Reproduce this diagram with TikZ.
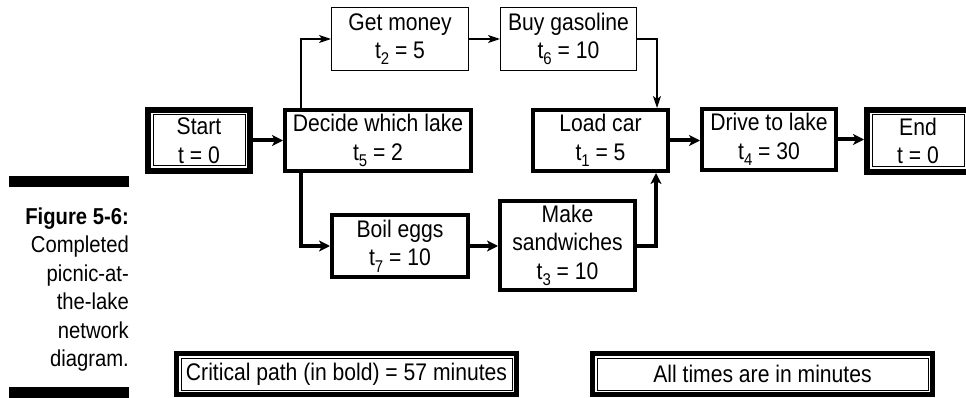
\documentclass[tikz,border=0pt]{standalone}
\usepackage{fontspec}
\setmainfont[FakeStretch=0.88]{Liberation Sans}
\usetikzlibrary{arrows.meta}
\newcommand\sbx[1]{\raisebox{-0.26em}{\fontsize{17}{17}\selectfont #1}}
\tikzset{
  box/.style={draw, align=center, inner sep=0pt, font=\fontsize{24}{28.5}\selectfont},
  thinbox/.style={box, line width=1.3pt},
  thickbox/.style={box, line width=4pt},
  dblbox/.style={box, line width=6pt},
  notebox/.style={box, line width=5pt},
  thinarr/.style={line width=1.3pt, -{Stealth[length=12pt,width=8pt,inset=3pt]}},
  thickarr/.style={line width=4pt, -{Stealth[length=11pt,width=11pt,inset=3pt]}},
  innerline/.style={line width=1pt},
  captxt/.style={anchor=base east, inner sep=0pt, font=\fontsize{23}{28}\selectfont},
}
\begin{document}
\begin{tikzpicture}[x=1pt,y=-1pt]
\useasboundingbox (0,0) rectangle (966,398);
\clip (0,0) rectangle (966,398);
% caption
\fill (9,176) rectangle (129,187);
\fill (9,387) rectangle (129,398);
\node[captxt, font=\fontsize{23}{28}\selectfont\bfseries] (c1) at (129,224) {Figure 5-6:};
\node[captxt] (c2) at (129,252.5) {Completed};
\node[captxt] (c3) at (129,281) {picnic-at-};
\node[captxt] (c4) at (129,309.5) {the-lake};
\node[captxt] (c5) at (129,338) {network};
\node[captxt] (c6) at (129,366.5) {diagram.};
% nodes
\node[dblbox, minimum width=102pt, minimum height=61pt] (st) at (199,140.5) {Start\\t = 0};
\node[thickbox, minimum width=186pt, minimum height=61pt] (dec) at (378,140.5) {Decide which lake\\t\sbx{5} = 2};
\node[thinbox, minimum width=136.7pt, minimum height=62.7pt] (gm) at (400,39) {Get money\\t\sbx{2} = 5};
\node[thinbox, minimum width=135.7pt, minimum height=62.7pt] (bg) at (568.5,39) {Buy gasoline\\t\sbx{6} = 10};
\node[thickbox, minimum width=135pt, minimum height=61pt] (lc) at (600.5,140.5) {Load car\\t\sbx{1} = 5};
\node[thickbox, minimum width=134pt, minimum height=61pt] (dr) at (769,139.5) {Drive to lake\\t\sbx{4} = 30};
\node[dblbox, minimum width=102pt, minimum height=62pt] (en) at (918,141) {End\\t = 0};
\node[thickbox, minimum width=136pt, minimum height=62pt] (be) at (400,246) {Boil eggs\\t\sbx{7} = 10};
\node[thickbox, minimum width=135pt, minimum height=89pt] (ms) at (567.5,245.5) {Make\\sandwiches\\t\sbx{3} = 10};
\node[notebox, minimum width=340pt, minimum height=41pt] (cp) at (346.5,374) {Critical path (in bold) = 57 minutes};
\node[notebox, minimum width=340pt, minimum height=41pt] (at) at (762.5,374) {All times are in minutes};
% inner lines of double boxes
\draw[innerline] ([shift={(8pt,-8pt)}]st.north west) rectangle ([shift={(-8pt,8pt)}]st.south east);
\draw[innerline] ([shift={(8pt,-8pt)}]en.north west) rectangle ([shift={(-8pt,8pt)}]en.south east);
\draw[innerline] ([shift={(7pt,-7pt)}]cp.north west) rectangle ([shift={(-7pt,7pt)}]cp.south east);
\draw[innerline] ([shift={(7pt,-7pt)}]at.north west) rectangle ([shift={(-7pt,7pt)}]at.south east);
% connectors
\draw[thickarr] (st.east) -- (dec.west |- st.east);
\draw[thinarr] ([xshift=18pt]dec.north west) |- (gm.west);
\draw[thinarr] (gm.east) -- (bg.west);
\draw[thinarr] (bg.east) -| ([xshift=-13pt]lc.north east);
\draw[thickarr] ([xshift=18pt]dec.south west) |- (be.west);
\draw[thickarr] (be.east) -- (ms.west |- be.east);
\draw[thickarr] (ms.east) -| ([xshift=-14pt]lc.south east);
\draw[thickarr] (lc.east) -- (dr.west |- lc.east);
\draw[thickarr] (dr.east) -- (en.west |- dr.east);
\end{tikzpicture}
\end{document}
